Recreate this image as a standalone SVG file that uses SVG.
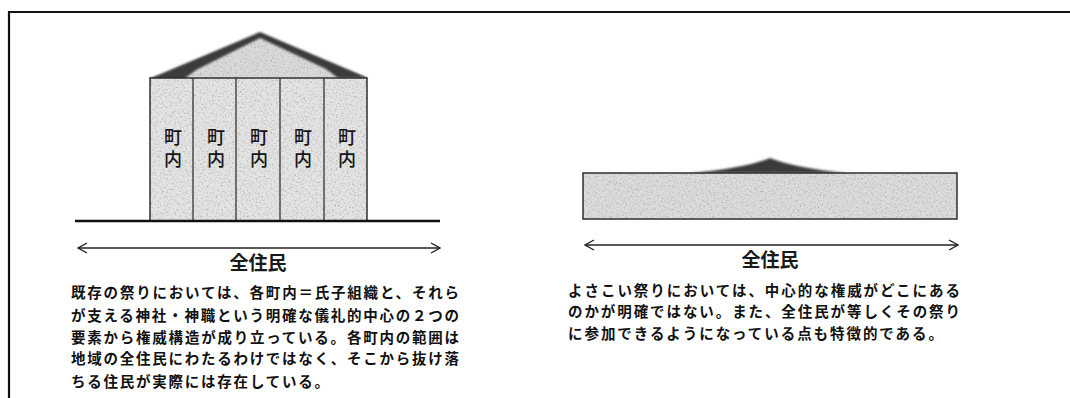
<svg xmlns="http://www.w3.org/2000/svg" width="1070" height="398" viewBox="0 0 1070 398">
<style>
.frame{fill:none;stroke:#111;stroke-width:2.2}
.edge{fill:none;stroke:#222;stroke-width:1.4}
.div{stroke:#333;stroke-width:1.3}
.ground{stroke:#111;stroke-width:2.6}
.arrow{fill:none;stroke:#222;stroke-width:1.5;marker-start:url(#open);marker-end:url(#open)}
.cell{font-family:"Noto Sans CJK JP","Noto Sans CJK SC",sans-serif;font-size:18px;font-weight:500;fill:#151515;text-anchor:middle;writing-mode:vertical-rl;letter-spacing:4px}
.label{font-family:"Noto Sans CJK JP","Noto Sans CJK SC",sans-serif;font-size:19px;font-weight:700;fill:#1a1a1a;text-anchor:middle}
.para{font-family:"Noto Sans CJK JP","Noto Sans CJK SC",sans-serif;font-size:14.5px;font-weight:700;fill:#111}
</style>
<defs>
<marker id="open" viewBox="0 0 12 12" refX="11" refY="6" markerWidth="12" markerHeight="12" markerUnits="userSpaceOnUse" orient="auto-start-reverse">
<path d="M2,1 L11,6 L2,11" fill="none" stroke="#222" stroke-width="1.4"/>
</marker>
<filter id="grain" x="0" y="0" width="100%" height="100%">
<feTurbulence type="fractalNoise" baseFrequency="0.55" numOctaves="3" seed="7" result="n"/>
<feColorMatrix in="n" type="matrix" values="0 0 0 0 0.45 0 0 0 0 0.45 0 0 0 0 0.45 2.6 0 0 0 -1.25" result="spk"/>
<feComposite in="spk" in2="SourceAlpha" operator="in" result="s2"/>
<feMerge><feMergeNode in="SourceGraphic"/><feMergeNode in="s2"/></feMerge>
</filter>
<filter id="soft"><feGaussianBlur stdDeviation="0.8"/></filter>
</defs>
<rect width="1070" height="398" fill="#fff"/>
<path class="frame" d="M9,398 L9,12 L1070,12"/>

<g id="building-left">
<polygon points="150,78 260,34 367,77" fill="#dadada" filter="url(#grain)"/>
<g filter="url(#soft)" fill="#3a3a3a">
<polygon points="149,79 260,32 262,37 196,70 184,79"/>
<polygon points="368,78 260,32 258,37 326,69 338,78"/>
</g>
<rect x="150" y="78" width="217" height="143" fill="#e4e4e4" filter="url(#grain)"/>
<rect class="edge" x="150" y="78" width="217" height="143"/>
<line class="div" x1="193" y1="78" x2="193" y2="221"/>
<line class="div" x1="236" y1="78" x2="236" y2="221"/>
<line class="div" x1="280" y1="78" x2="280" y2="221"/>
<line class="div" x1="324" y1="78" x2="324" y2="221"/>
<text class="cell" x="173" y="150">町内</text>
<text class="cell" x="216" y="150">町内</text>
<text class="cell" x="259" y="150">町内</text>
<text class="cell" x="303" y="150">町内</text>
<text class="cell" x="347" y="150">町内</text>
<line class="ground" x1="75" y1="221" x2="440" y2="221"/>
</g>

<g id="block-right">
<path d="M690,173 Q745,168 770,158 Q795,168 847,173 Z" fill="#3a3a3a" filter="url(#soft)"/>
<rect x="583" y="173" width="374" height="46" fill="#dcdcdc" filter="url(#grain)"/>
<rect class="edge" x="583" y="173" width="374" height="46"/>
</g>

<g id="connectors">
<line class="arrow" x1="78" y1="248" x2="440" y2="248"/>
<line class="arrow" x1="585" y1="245" x2="958" y2="245"/>
</g>

<g id="label-left">
<text class="label" x="258" y="270">全住民</text>
</g>
<g id="label-right">
<text class="label" x="770" y="267">全住民</text>
</g>

<g id="text-left">
<text class="para" x="71" y="298" textLength="388" lengthAdjust="spacing">既存の祭りにおいては、各町内＝氏子組織と、それら</text>
<text class="para" x="71" y="321" textLength="388" lengthAdjust="spacing">が支える神社・神職という明確な儀礼的中心の２つの</text>
<text class="para" x="71" y="343" textLength="388" lengthAdjust="spacing">要素から権威構造が成り立っている。各町内の範囲は</text>
<text class="para" x="71" y="364" textLength="388" lengthAdjust="spacing">地域の全住民にわたるわけではなく、そこから抜け落</text>
<text class="para" x="71" y="387" textLength="258" lengthAdjust="spacing">ちる住民が実際には存在している。</text>
</g>

<g id="text-right">
<text class="para" x="568" y="296" textLength="392" lengthAdjust="spacing">よさこい祭りにおいては、中心的な権威がどこにある</text>
<text class="para" x="568" y="317" textLength="392" lengthAdjust="spacing">のかが明確ではない。また、全住民が等しくその祭り</text>
<text class="para" x="568" y="339" textLength="375" lengthAdjust="spacing">に参加できるようになっている点も特徴的である。</text>
</g>
</svg>
